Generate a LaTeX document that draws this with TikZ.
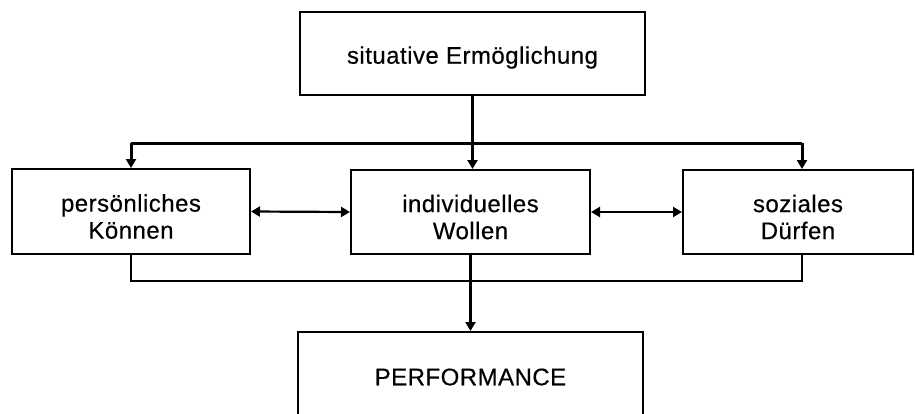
\documentclass[tikz,border=0pt]{standalone}
\usepackage{fontspec}
\setmainfont{Liberation Sans}[LetterSpace=2,FakeBold=0.4]
\usetikzlibrary{arrows.meta}
\begin{document}
\begin{tikzpicture}[x=1pt,y=-1pt,
  box/.style={draw,line width=2pt,rectangle,inner sep=0pt},
  lbl/.style={align=center,inner sep=0pt,font=\fontsize{24}{27}\selectfont},
  tip/.style={-{Triangle[length=9pt,width=10pt]}},
  dtip/.style={{Triangle[length=9pt,width=10pt]}-{Triangle[length=9pt,width=10pt]}},
  thickline/.style={line width=3pt},
  thinline/.style={line width=2.2pt}]
\useasboundingbox (0,0) rectangle (915,413);
\clip (0,0) rectangle (915,413);
% boxes
\node[box,minimum width=345pt,minimum height=83pt] (top) at (472.5,53.5) {};
\node[box,minimum width=238pt,minimum height=85pt] (left) at (131,211.5) {};
\node[box,minimum width=239pt,minimum height=84pt] (mid) at (470.5,212) {};
\node[box,minimum width=230pt,minimum height=84pt] (right) at (798,212) {};
\node[box,minimum width=345pt,minimum height=90pt] (perf) at (470.5,377) {};
% labels
\node[lbl] (ttop) at ([yshift=-4pt]top.center) {situative Ermöglichung};
\node[lbl] (tleft) at ([yshift=-5pt]left.center) {persönliches\\Können};
\node[lbl] (tmid) at ([yshift=-5pt]mid.center) {individuelles\\Wollen};
\node[lbl] (tright) at ([yshift=-5pt]right.center) {soziales\\Dürfen};
\node[lbl] (tperf) at ([yshift=-0pt]perf.center) {PERFORMANCE};
% connectors
\coordinate (hl) at (131,143);
\coordinate (hr) at (802,143);
\draw[thickline,tip] (top.south) -- (top.south |- mid.north);
\draw[thickline] (hl) -- (hr);
\draw[thickline,tip] (hl) -- (hl |- left.north);
\draw[thickline,tip] (hr) -- (hr |- right.north);
\draw[thinline,dtip] (left.east) -- (mid.west);
\draw[thinline,dtip] (mid.east) -- (right.west);
\coordinate (bl) at (131,281);
\coordinate (br) at (802,281);
\draw[thinline] (bl |- left.south) -- (bl) -- (br) -- (br |- right.south);
\draw[thickline,tip] (mid.south) -- (perf.north);
\end{tikzpicture}
\end{document}
